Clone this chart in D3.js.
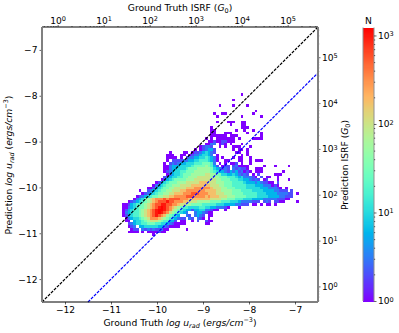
<!DOCTYPE html>
<html>
<head>
<meta charset="utf-8">
<script src="https://cdn.jsdelivr.net/npm/d3@7"></script>
<style>
body { margin: 0; background: #fff; }
text { font-family: "DejaVu Sans", sans-serif; fill: #000; }
</style>
</head>
<body>
<svg width="399" height="333"></svg>
<script>
// counts per level, the heat rows below store an index into this list
const count_levels = [1, 2, 3, 6, 10, 18, 32, 56, 100, 178, 316, 562, 1000, 1200];
const level_codes = "0123456789abcd";

// 2d histogram: bin width 0.06 dex, rows from -6.5 downwards, "column:levels" runs
const bin_width = 0.06;
const first_row = 24;
const heat_rows = [
    "72:0",
    "",
    "69:0",
    "",
    "64:0 69:0 74:0",
    "",
    "77:0",
    "62:0 65:00 76:0",
    "63:0 72:0 79:0",
    "",
    "63:0 67:000 72:00",
    "68:0 72:00",
    "61:0 72:00 74:0",
    "61:00 70:0 73:0 76:0",
    "61:00 66:000 74:0 79:0",
    "61:00 63:0000 68:00 70:0 79:0",
    "59:0 61:0 63:000000 69:0 71:0 76:0000",
    "60:00 62:1 63:0011 67:00 69:0",
    "59:0022 64:01 66:0 68:0 72:0",
    "57:0 58:1 59:22 61:1 64:0 66:0 69:000 75:0",
    "55:0 57:0 58:1233 62:1 69:0 71:00 74:0",
    "46:0 51:00 54:01 56:1234 60:32 62:1 70:00 74:0",
    "45:00 47:0 50:0 51:0 53:012 56:234 59:43 61:2 63:0 72:0 74:0",
    "45:000 48:0 50:0 52:1 53:22 55:3344 59:5 60:43 62:2 63:0 65:0 69:0 71:0 72:0 75:0",
    "45:0 47:1 48:11 50:1 51:2 52:2 53:33 55:445 58:554 61:32 63:0 66:00 71:00 75:0 77:000",
    "44:0 46:1 47:21 49:2 50:3 51:344 54:455 57:566 60:65 62:2 64:0 66:0 68:00 70:1 72:0 75:0",
    "44:00 46:2 47:33 49:3 50:4 51:444 54:566 57:667 60:65 62:3 63:1 65:01 67:1 69:12 71:000 74:0 80:0 84:0 89:0",
    "44:00 46:23 48:34 50:44 52:56 54:667 57:777 60:76 62:43 64:21 66:2 67:1 69:212 72:11 74:0 77:000",
    "44:0 45:12 47:34 49:45 51:56 53:667 56:777 59:776 62:54 64:33 66:21 68:323 71:12 73:01 75:0 77:00 79:0 87:0",
    "45:0 46:23 48:44 50:56 52:667 55:777 58:7887 62:766 65:44 67:334 70:32 72:12 74:1 76:0 78:1 84:000",
    "44:1 45:2 46:3 47:4 48:45 50:56 52:677 55:788 58:8887 62:776 65:665 68:554 71:34 73:22 75:21 77:0 79:1 81:00 85:0",
    "43:0 44:1 45:3 46:4 47:56 49:66 51:677 54:788 57:8888 61:887 64:766 67:655 70:54 72:43 74:32 76:12 78:1 80:01 85:0 89:0",
    "41:0 42:1 43:3 44:4 45:56 47:66 49:777 52:888 55:8899 59:988 62:877 65:766 68:655 71:55 73:43 75:33 77:23 79:21 81:10 83:0 85:1",
    "40:00 41:2 42:3 43:45 45:66 47:77 49:788 52:889 55:9999 59:998 62:887 65:766 68:655 71:55 73:54 75:44 77:33 79:32 81:22 83:01 85:0",
    "38:0 39:0 40:1 41:34 43:56 45:67 47:78 49:88 51:899 54:9aa 57:aaa 60:a98 63:887 66:766 69:655 72:55 74:44 76:44 78:43 80:33 82:22 84:21 86:0 88:0",
    "35:0 38:1 39:2 40:3 41:45 43:66 45:77 47:88 49:89 51:9aa 54:aaa 57:aa9 60:999 63:887 66:777 69:666 72:55 74:55 76:44 78:44 80:33 82:33 84:22 86:11 88:1 90:1",
    "36:0 37:1 38:2 39:3 40:45 42:66 44:77 46:88 48:99 50:9aa 53:abb 56:baa 59:a99 62:988 65:877 68:766 71:66 73:55 75:55 77:54 79:44 81:33 83:33 85:22 87:22 89:11 92:0",
    "34:0 35:1 36:2 37:3 38:45 40:66 42:77 44:88 46:99 48:aaa 51:abb 54:baa 57:aa9 60:a99 63:988 66:877 69:766 72:66 74:55 76:55 78:44 80:44 82:33 84:33 86:22 88:11 90:1",
    "33:0 34:2 35:3 36:4 37:6 38:78 40:9a 42:aa 44:ba 46:bb 48:bb 50:aa 52:a9 54:99 56:99 58:99 60:98 62:88 64:87 66:76 68:66 70:55 72:54 74:44 76:33 78:33 80:22 82:22 84:21 86:11 88:0 89:0",
    "31:0 32:1 33:2 34:3 35:4 36:56 38:78 40:9a 42:bb 44:bc 46:bb 48:aa 50:a9 52:98 54:88 56:77 58:77 60:76 62:66 64:65 66:55 68:44 70:43 72:22 74:22 76:11 78:1 80:12 82:1 84:1 85:10 87:0 92:0",
    "29:0 30:01 32:3 33:4 34:55 36:67 38:89 40:ab 42:bc 44:cb 46:ba 48:a9 50:88 52:77 54:66 56:66 58:55 60:55 62:54 64:44 66:33 68:33 70:22 72:11 74:1 76:0 77:0 79:0 81:00 84:0",
    "29:00 31:2 32:3 33:45 35:66 37:78 39:9a 41:bc 43:dc 45:ba 47:98 49:76 51:55 53:44 55:44 57:55 59:44 61:33 63:22 65:21 67:0 71:0",
    "29:0 30:1 31:3 32:4 33:55 35:67 37:89 39:ab 41:cd 43:dc 45:ba 47:87 49:65 51:43 53:3 54:1 55:33 57:44 59:22 61:1 62:00 66:0",
    "29:0 30:2 31:3 32:45 34:56 36:78 38:9a 40:bc 42:dc 44:ba 46:87 48:65 50:43 52:2 55:2 56:33 58:21 60:0 61:0",
    "29:0 30:1 31:3 32:4 33:55 35:67 37:89 39:ab 41:cb 43:a9 45:76 47:54 49:3 52:2 53:1 55:2 56:32 58:1 60:00",
    "30:0 31:2 32:3 33:44 35:56 37:78 39:aa 41:a9 43:87 45:65 47:43 49:21 51:1 53:2 54:1 56:2 57:1 58:0 60:0",
    "30:00 33:3 34:44 36:56 38:78 40:88 42:76 44:55 46:33 48:1 50:0 51:0 54:0 56:1 59:1 60:00",
    "31:1 32:2 33:3 34:4 35:45 37:56 39:66 41:55 43:44 45:32 47:10 49:00 51:0 59:0 60:0",
    "31:0 32:1 33:2 35:3 36:34 38:44 40:44 42:33 44:21 46:0 47:0 48:00",
    "32:0 33:1 34:1 36:2 37:1 38:2 39:12 41:1 42:1 43:2 44:0 45:0 52:0",
    "31:00 33:0 34:0 36:0 38:0 39:00 41:0 42:1 43:0 44:0",
    "40:0"
];

const x_domain = [-12.5, -6.5];
const y_domain = [-12.5, -6.5];
const x_ticks = [-12, -11, -10, -9, -8, -7];
const y_ticks = [-12, -11, -10, -9, -8, -7];
const isrf_offset = 12.16;      // log G0 = log u_rad + offset
const isrf_ticks = [1, 10, 100, 1000, 10000, 100000];
const cbar_domain = [1, 1230];
const cbar_ticks = [1, 10, 100, 1000];
const unity_line = [-12.5, -6.5];
const offset_line = [-11.5, -6.5];   // truth = prediction + 1

var svg = d3.select("svg");
var plot = {left: 42, right: 318, top: 27, bottom: 302};
var bar = {left: 363, right: 374, top: 27.5, bottom: 301};

var x = d3.scaleLinear().domain(x_domain).range([plot.left, plot.right]);
var y = d3.scaleLinear().domain(y_domain).range([plot.bottom, plot.top]);
var x_isrf = d3.scaleLog().domain(x_domain.map(d => Math.pow(10, d + isrf_offset))).range([plot.left, plot.right]);
var y_isrf = d3.scaleLog().domain(y_domain.map(d => Math.pow(10, d + isrf_offset))).range([plot.bottom, plot.top]);
var bar_scale = d3.scaleLog().domain(cbar_domain).range([bar.bottom, bar.top]);
var colour_pos = d3.scaleLog().domain(cbar_domain).range([0, 1]).clamp(true);

// matplotlib rainbow
function rainbow(t) {
    var r = Math.abs(2 * t - 0.5),
        g = Math.sin(Math.PI * t),
        b = Math.cos(Math.PI * t / 2);
    return d3.rgb(255 * Math.min(r, 1), 255 * g, 255 * b);
}

// unpack the runs into cells
var cells = [];
heat_rows.forEach(function(row, i) {
    if (!row) return;
    row.split(" ").forEach(function(run) {
        var parts = run.split(":"), col = +parts[0];
        parts[1].split("").forEach(function(code, k) {
            cells.push({
                xv: x_domain[0] + (col + k) * bin_width,
                yv: y_domain[1] - (first_row + i) * bin_width,
                n: count_levels[level_codes.indexOf(code)]
            });
        });
    });
});

svg.append("g")
    .attr("shape-rendering", "crispEdges")
    .selectAll("rect")
    .data(cells)
    .enter().append("rect")
    .attr("x", d => x(d.xv))
    .attr("y", d => y(d.yv))
    .attr("width", d => x(d.xv + bin_width) - x(d.xv))
    .attr("height", d => y(d.yv - bin_width) - y(d.yv))
    .attr("fill", d => rainbow(colour_pos(d.n)));

// reference lines
function ref_line(ends, shift, colour) {
    svg.append("line")
        .attr("x1", x(ends[0])).attr("y1", y(ends[0] - shift))
        .attr("x2", x(ends[1])).attr("y2", y(ends[1] - shift))
        .attr("stroke", colour)
        .attr("stroke-width", 1.2)
        .attr("stroke-dasharray", "3,1.2");
}
ref_line(unity_line, 0, "#000");
ref_line(offset_line, 1, "#0000ff");

// superscript tick labels
function power_label(sel) {
    sel.each(function(d) {
        var t = d3.select(this).text("");
        t.append("tspan").text("10");
        t.append("tspan").attr("dy", "-0.4em").attr("font-size", "0.72em").text(Math.round(Math.log10(d)));
    });
}

function minors(scale) {
    var out = [];
    scale.ticks().forEach(function(d) {
        if (Math.abs(Math.log10(d) - Math.round(Math.log10(d))) > 1e-6) out.push(d);
    });
    return out;
}

function style_axis(g, size) {
    g.select(".domain").remove();
    g.selectAll("text").attr("font-size", size).style("font-family", '"DejaVu Sans"');
    g.selectAll("line").attr("stroke-width", 0.7).attr("stroke", "#222");
}

var tick_font = 9.1;

var ax_bottom = svg.append("g").attr("transform", "translate(0," + plot.bottom + ")")
    .call(d3.axisBottom(x).tickValues(x_ticks).tickSize(2.5).tickPadding(2).tickFormat(d => "\u2212" + Math.abs(d)));
style_axis(ax_bottom, tick_font);

var ax_left = svg.append("g").attr("transform", "translate(" + plot.left + ",0)")
    .call(d3.axisLeft(y).tickValues(y_ticks).tickSize(2.5).tickPadding(2).tickFormat(d => "\u2212" + Math.abs(d)));
style_axis(ax_left, tick_font);

var ax_top = svg.append("g").attr("transform", "translate(0," + plot.top + ")")
    .call(d3.axisTop(x_isrf).tickValues(isrf_ticks).tickSize(2).tickPadding(1.5));
style_axis(ax_top, tick_font);
ax_top.selectAll("text").call(power_label);

var ax_top_minor = svg.append("g").attr("transform", "translate(0," + plot.top + ")")
    .call(d3.axisTop(x_isrf).tickValues(minors(x_isrf)).tickSize(1).tickFormat(""));
style_axis(ax_top_minor, tick_font);

var ax_right = svg.append("g").attr("transform", "translate(" + plot.right + ",0)")
    .call(d3.axisRight(y_isrf).tickValues(isrf_ticks).tickSize(2.5).tickPadding(1.5));
style_axis(ax_right, tick_font);
ax_right.selectAll("text").call(power_label);

var ax_right_minor = svg.append("g").attr("transform", "translate(" + plot.right + ",0)")
    .call(d3.axisRight(y_isrf).tickValues(minors(y_isrf)).tickSize(1.2).tickFormat(""));
style_axis(ax_right_minor, tick_font);

// spines, top and bottom are black, the two sides come out grey and thick
[[plot.left, plot.top, plot.right, plot.top, "#000", 1], [plot.left, plot.bottom, plot.right, plot.bottom, "#000", 1],
 [plot.left, plot.top, plot.left, plot.bottom, "#808080", 2], [plot.right, plot.top, plot.right, plot.bottom, "#808080", 2]]
    .forEach(function(s) {
        svg.append("line")
            .attr("x1", s[0]).attr("y1", s[1]).attr("x2", s[2]).attr("y2", s[3])
            .attr("stroke", s[4]).attr("stroke-width", s[5]);
    });

// colorbar
svg.append("g")
    .attr("shape-rendering", "crispEdges")
    .selectAll("rect")
    .data(d3.range(0, 256))
    .enter().append("rect")
    .attr("x", bar.left)
    .attr("width", bar.right - bar.left)
    .attr("y", d => bar.bottom - (d + 1) / 256 * (bar.bottom - bar.top))
    .attr("height", (bar.bottom - bar.top) / 256 + 0.5)
    .attr("fill", d => rainbow((d + 0.5) / 256));

[bar.left, bar.right].forEach(function(px) {
    svg.append("line")
        .attr("x1", px).attr("x2", px).attr("y1", bar.top).attr("y2", bar.bottom)
        .attr("stroke", "#909090").attr("stroke-width", 1);
});

var ax_bar = svg.append("g").attr("transform", "translate(" + bar.right + ",0)")
    .call(d3.axisRight(bar_scale).tickValues(cbar_ticks).tickSize(2.5).tickPadding(1.5));
style_axis(ax_bar, tick_font);
ax_bar.selectAll("text").call(power_label);

var ax_bar_minor = svg.append("g").attr("transform", "translate(" + bar.right + ",0)")
    .call(d3.axisRight(bar_scale).tickValues(minors(bar_scale)).tickSize(1.2).tickFormat(""));
style_axis(ax_bar_minor, tick_font);

svg.append("text").attr("x", 368.5).attr("y", 24).attr("text-anchor", "middle").attr("font-size", 9.2).text("N");

// axis titles with mixed styles, parts are [text, kind]
var label_font = 9.2;
function math_label(px, py, angle, parts) {
    var t = svg.append("text")
        .attr("transform", "translate(" + px + "," + py + ") rotate(" + angle + ")")
        .attr("text-anchor", "middle")
        .attr("font-size", label_font);
    var shift = 0;
    parts.forEach(function(p) {
        var s = t.append("tspan").text(p[0]);
        var next = 0, size = 1;
        if (p[1] == "i") s.attr("font-style", "italic");
        if (p[1] == "sub" || p[1] == "isub") { next = 0.25; size = 0.7; }
        if (p[1] == "sup") { next = -0.4; size = 0.7; }
        if (p[1] == "isub") s.attr("font-style", "italic");
        if (size != 1) s.attr("font-size", label_font * size);
        s.attr("dy", (next - shift) * label_font);
        shift = next;
    });
}

var u_label = [["log", "i"], [" ", ""], ["u", "i"], ["rad", "isub"], [" (", ""], ["ergs/cm", "i"], ["\u22123", "sup"], [")", ""]];

math_label(180, 326, 0, [["Ground Truth ", ""]].concat(u_label));
math_label(12, 165, -90, [["Prediction ", ""]].concat(u_label));
math_label(180, 10.5, 0, [["Ground Truth ISRF (", ""], ["G", "i"], ["0", "sub"], [")", ""]]);
math_label(348, 165, -90, [["Prediction ISRF (", ""], ["G", "i"], ["0", "sub"], [")", ""]]);
</script>
</body>
</html>
